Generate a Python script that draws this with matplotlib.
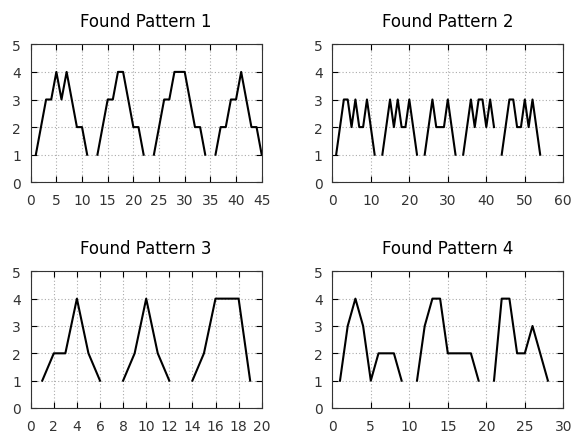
import numpy as np
import matplotlib
matplotlib.use('Agg')
import matplotlib.pyplot as plt

nan = np.nan

# pattern 1
x1 = [1, 2, 3, 4, 5, 6, 7, 8, 9, 10, 11, nan,
      13, 14, 15, 16, 17, 18, 19, 20, 21, 22, nan,
      24, 25, 26, 27, 28, 29, 30, 31, 32, 33, 34, nan,
      36, 37, 38, 39, 40, 41, 42, 43, 44, 45]
y1 = [1, 2, 3, 3, 4, 3, 4, 3, 2, 2, 1, nan,
      1, 2, 3, 3, 4, 4, 3, 2, 2, 1, nan,
      1, 2, 3, 3, 4, 4, 4, 3, 2, 2, 1, nan,
      1, 2, 2, 3, 3, 4, 3, 2, 2, 1]

# pattern 2
x2 = [1, 2, 3, 4, 5, 6, 7, 8, 9, 10, 11, nan,
      13, 14, 15, 16, 17, 18, 19, 20, 21, 22, nan,
      24, 25, 26, 27, 28, 29, 30, 31, 32, nan,
      34, 35, 36, 37, 38, 39, 40, 41, 42, nan,
      44, 45, 46, 47, 48, 49, 50, 51, 52, 53, 54]
y2 = [1, 2, 3, 3, 2, 3, 2, 2, 3, 2, 1, nan,
      1, 2, 3, 2, 3, 2, 2, 3, 2, 1, nan,
      1, 2, 3, 2, 2, 2, 3, 2, 1, nan,
      1, 2, 3, 2, 3, 3, 2, 3, 2, nan,
      1, 2, 3, 3, 2, 2, 3, 2, 3, 2, 1]

# pattern 3
x3 = [1, 2, 3, 4, 5, 6, nan,
      8, 9, 10, 11, 12, nan,
      14, 15, 16, 17, 18, 19]
y3 = [1, 2, 2, 4, 2, 1, nan,
      1, 2, 4, 2, 1, nan,
      1, 2, 4, 4, 4, 1]

# pattern 4
x4 = [1, 2, 3, 4, 5, 6, 7, 8, 9, nan,
      11, 12, 13, 14, 15, 16, 17, 18, 19, nan,
      21, 22, 23, 24, 25, 26, 27, 28]
y4 = [1, 3, 4, 3, 1, 2, 2, 2, 1, nan,
      1, 3, 4, 4, 2, 2, 2, 2, 1, nan,
      1, 4, 4, 2, 2, 3, 2, 1]

titles = ['Found Pattern 1', 'Found Pattern 2', 'Found Pattern 3', 'Found Pattern 4']
xmax = [45, 60, 20, 30]
xstep = [5, 10, 2, 5]
data = [(x1, y1), (x2, y2), (x3, y3), (x4, y4)]

fig = plt.figure(figsize=(5.81, 4.35), dpi=100)
W, H = 581.0, 435.0
boxes = [(30.7, 45.3, 261.7, 183.3),
         (332.3, 45.3, 563.3, 183.3),
         (30.7, 272.3, 261.7, 409.0),
         (332.3, 272.3, 563.3, 409.0)]

for i in range(4):
    l, t, r, b = boxes[i]
    ax = fig.add_axes([l / W, 1 - b / H, (r - l) / W, (b - t) / H])
    x, y = data[i]
    ax.plot(x, y, color='black', lw=1.5)
    ax.set_xlim(0, xmax[i])
    ax.set_ylim(0, 5)
    ax.set_xticks(np.arange(0, xmax[i] + 1, xstep[i]))
    ax.set_yticks(range(6))
    ax.grid(True, color='#aaaaaa', linestyle=(0, (1, 2)), lw=0.8)
    ax.tick_params(direction='in', top=True, right=True, length=4,
                   labelsize=10, labelcolor='#333333')
    ax.tick_params(axis='x', pad=8)
    ax.tick_params(axis='y', pad=7)
    for s in ax.spines.values():
        s.set_color('#333333')
    ax.set_title(titles[i], fontsize=12, pad=13)

fig.savefig('out.png', dpi=100)
